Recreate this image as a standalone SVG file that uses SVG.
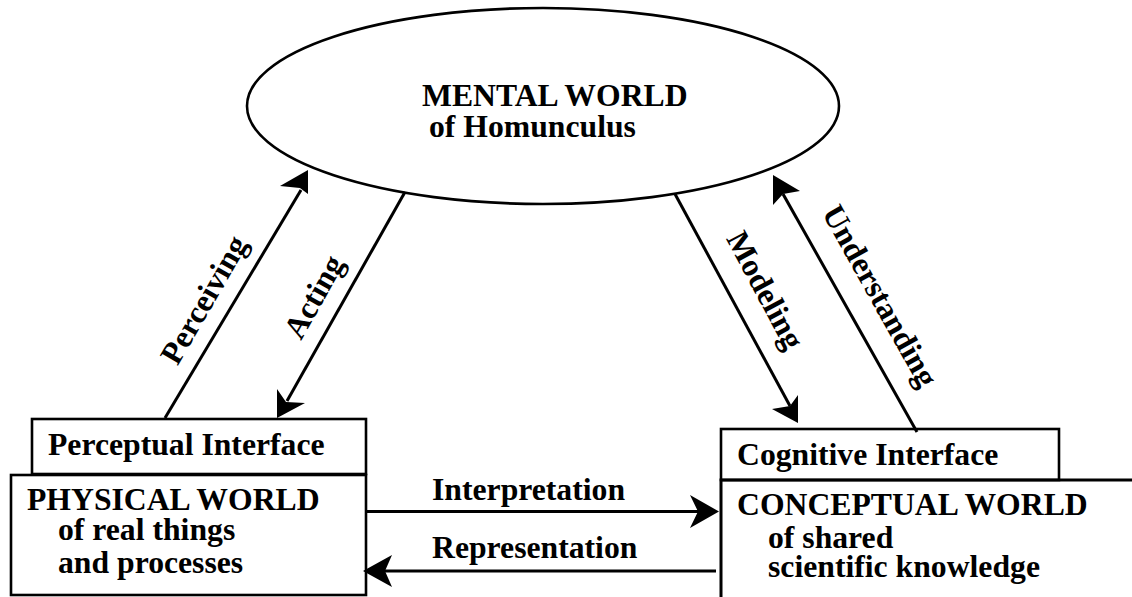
<svg xmlns="http://www.w3.org/2000/svg" width="1132" height="597" viewBox="0 0 1132 597">
<style>
.t{font-family:"Liberation Serif","Times New Roman",serif;font-weight:bold;font-size:31.7px;fill:#000}
.m{text-anchor:middle}
.box{fill:#fff;stroke:#000;stroke-width:2.6}
.ln{fill:none;stroke:#000;stroke-width:3}
.hd{fill:#000;stroke:none}
</style>
<rect width="1132" height="597" fill="#fff"/>
<g id="mental">
<ellipse cx="543" cy="106" rx="296" ry="98" fill="#fff" stroke="#000" stroke-width="2.6"/>
<text class="t" x="422" y="106">MENTAL WORLD</text>
<text class="t" x="429" y="137">of Homunculus</text>
</g>
<g id="perceptual">
<rect class="box" x="32" y="419" width="334" height="55"/>
<text class="t" x="48" y="455">Perceptual Interface</text>
</g>
<g id="physical">
<rect class="box" x="11" y="475" width="355" height="120"/>
<text class="t" x="27" y="510">PHYSICAL WORLD</text>
<text class="t" x="58" y="540">of real things</text>
<text class="t" x="58" y="573">and processes</text>
</g>
<g id="cognitive">
<rect class="box" x="721" y="429" width="338" height="51"/>
<text class="t" x="737" y="465">Cognitive Interface</text>
</g>
<g id="conceptual">
<path class="ln" d="M721,598 V480 H1133" stroke-width="2.6"/>
<text class="t" x="737" y="515">CONCEPTUAL WORLD</text>
<text class="t" x="768" y="548">of shared</text>
<text class="t" x="768" y="577">scientific knowledge</text>
</g>
<g id="connectors">
<line class="ln" x1="165" y1="418" x2="301" y2="190"/>
<polygon class="hd" points="308,170 280,186 300,188 308,194"/>
<text class="t m" transform="translate(213,305) rotate(-60)">Perceiving</text>
<line class="ln" x1="405" y1="192" x2="287" y2="401"/>
<polygon class="hd" points="277,418 277,389 286,402 305,403"/>
<text class="t m" transform="translate(323,302) rotate(-60.6)">Acting</text>
<line class="ln" x1="675" y1="194" x2="790" y2="406"/>
<polygon class="hd" points="798,423 772,409 790,406 798,395"/>
<text class="t m" transform="translate(756,295) rotate(61.8)">Modeling</text>
<line class="ln" x1="917" y1="432" x2="783" y2="194"/>
<polygon class="hd" points="773,175 773,205 783,194 800,191"/>
<text class="t m" transform="translate(871,301) rotate(60.7)">Understanding</text>
<line class="ln" x1="366" y1="511.5" x2="698" y2="511.5"/>
<polygon class="hd" points="719,511.5 690,495 698,511.5 690,528"/>
<text class="t" x="432" y="500">Interpretation</text>
<line class="ln" x1="716" y1="571" x2="385" y2="571"/>
<polygon class="hd" points="363,571 392,555 385,571 392,587"/>
<text class="t" x="432" y="558">Representation</text>
</g>
</svg>
